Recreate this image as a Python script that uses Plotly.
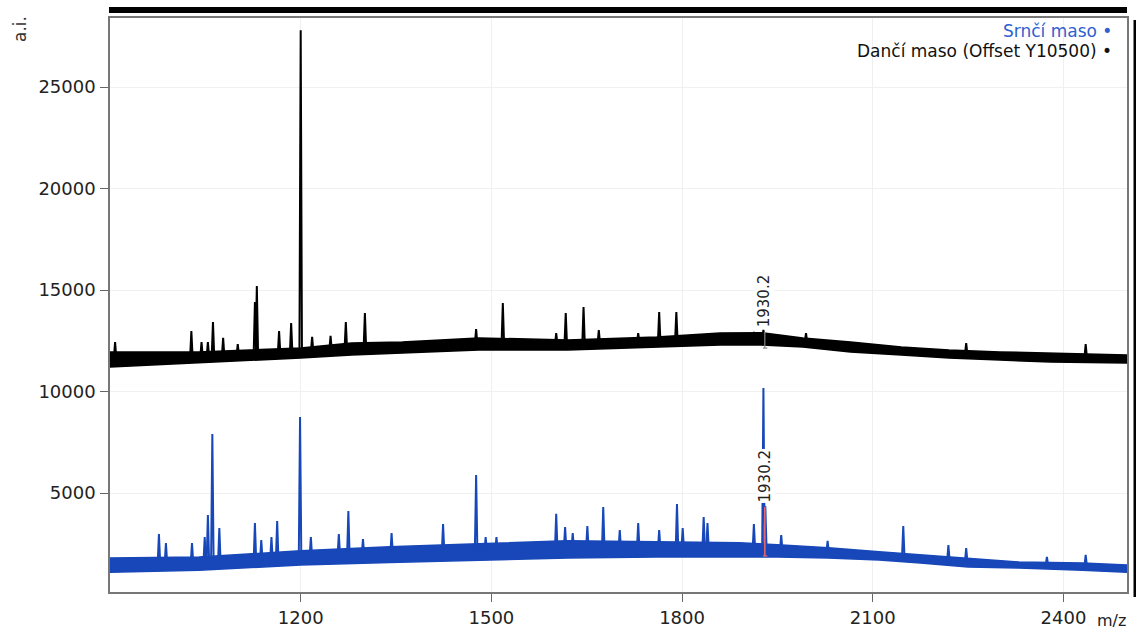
import plotly.graph_objects as go

# ---------------- data ----------------
OFFSET_DANCI = 10500

# Srnčí maso (blue) – noise band envelope
srnci_env_mz = [900, 1040, 1200, 1340, 1480, 1620, 1760, 1890, 1950, 2030, 2110, 2175, 2250, 2330, 2430, 2500]
srnci_env_hi = [1800, 1850, 2150, 2350, 2500, 2650, 2600, 2550, 2450, 2300, 2100, 1950, 1800, 1600, 1550, 1450]
srnci_env_lo = [1100, 1200, 1450, 1580, 1700, 1800, 1850, 1850, 1850, 1800, 1700, 1550, 1350, 1300, 1200, 1100]

# Srnčí maso peaks (m/z, apex, local baseline)
srnci_peak_mz = [977, 988, 1029, 1049, 1054, 1061, 1072, 1128, 1138, 1154, 1163, 1199, 1216, 1260,
                 1275, 1298, 1343, 1424, 1476, 1491, 1508, 1602, 1616, 1628, 1651, 1676, 1702, 1731,
                 1764, 1792, 1801, 1834, 1840, 1913, 1928, 1931, 1956, 2029, 2148, 2219, 2247, 2374, 2435]
srnci_peak_top = [2980, 2540, 2540, 2830, 3920, 7910, 3270, 3520, 2680, 2830, 3620, 8740, 2830, 2980,
                  4110, 2730, 3030, 3470, 5890, 2830, 2830, 3970, 3320, 3030, 3370, 4310, 3180, 3520,
                  3180, 4460, 3270, 3820, 3520, 3470, 10170, 4350, 2930, 2640, 3370, 2440, 2290, 1850, 1950]
srnci_peak_foot = [1500, 1500, 1520, 1530, 1540, 1550, 1560, 1640, 1660, 1700, 1710, 1800, 1820, 1880,
                   1900, 1930, 1970, 2050, 2100, 2110, 2120, 2200, 2220, 2220, 2220, 2220, 2220, 2220,
                   2220, 2220, 2220, 2210, 2210, 2180, 2170, 2170, 2150, 2050, 1820, 1650, 1580, 1420, 1370]

# Dančí maso (black) – intrinsic values (drawn with +10500 offset)
danci_env_mz = [900, 1040, 1200, 1280, 1360, 1480, 1620, 1760, 1860, 1925, 1990, 2065, 2145, 2220, 2300, 2380, 2500]
danci_env_hi = [1450, 1450, 1640, 1890, 1940, 2140, 2040, 2190, 2380, 2400, 2140, 1940, 1690, 1540, 1450, 1400, 1300]
danci_env_lo = [710, 900, 1150, 1300, 1400, 1540, 1540, 1690, 1790, 1790, 1690, 1450, 1300, 1150, 1050, 950, 900]

danci_peak_mz = [908, 1028, 1044, 1054, 1062, 1078, 1101, 1128, 1131, 1166, 1185, 1200, 1218, 1247, 1271,
                 1301, 1476, 1518, 1602, 1617, 1645, 1669, 1731, 1764, 1791, 1913, 1928, 1995, 2247, 2435]
danci_peak_top = [1940, 2480, 1940, 1940, 2920, 2140, 1840, 3910, 4700, 2480, 2870, 17300, 2190, 2240, 2920,
                  3360, 2580, 3860, 2380, 3360, 3660, 2530, 2380, 3410, 3410, 2430, 2530, 2380, 1890, 1840]
danci_peak_foot = [1090, 1170, 1180, 1190, 1200, 1210, 1240, 1270, 1270, 1340, 1370, 1395, 1440, 1510, 1570,
                   1610, 1830, 1830, 1800, 1790, 1810, 1840, 1900, 1940, 1980, 2090, 2090, 1900, 1310, 1150]

LABEL_MZ = 1930.2
x_ticks = [1200, 1500, 1800, 2100, 2400]
y_ticks = [5000, 10000, 15000, 20000, 25000]

BLUE = "#1747b8"
BLACK = "#000000"
FONT = "DejaVu Sans"

fig = go.Figure()


def add_series(env_mz, hi, lo, pk_mz, pk_top, pk_foot, color, offset):
    xs = list(env_mz) + list(env_mz[::-1])
    ys = [v + offset for v in hi] + [v + offset for v in lo[::-1]]
    fig.add_trace(go.Scatter(x=xs, y=ys, mode="lines", fill="toself", fillcolor=color,
                             line=dict(color=color, width=1.5), hoverinfo="skip", showlegend=False))
    sx, sy = [], []
    for m, t, f in zip(pk_mz, pk_top, pk_foot):
        sx += [m - 2.0, m, m + 2.0, None]
        sy += [f + offset, t + offset, f + offset, None]
    fig.add_trace(go.Scatter(x=sx, y=sy, mode="lines", line=dict(color=color, width=2),
                             hoverinfo="skip", showlegend=False))


add_series(danci_env_mz, danci_env_hi, danci_env_lo, danci_peak_mz, danci_peak_top, danci_peak_foot,
           BLACK, OFFSET_DANCI)
add_series(srnci_env_mz, srnci_env_hi, srnci_env_lo, srnci_peak_mz, srnci_peak_top, srnci_peak_foot,
           BLUE, 0)

# peak markers at 1930.2
shapes = [
    dict(type="line", xref="x", yref="y", x0=LABEL_MZ, x1=LABEL_MZ, y0=1900, y1=4310,
         line=dict(color="#f06a6a", width=1.5)),
    dict(type="line", xref="x", yref="y", x0=LABEL_MZ - 3, x1=LABEL_MZ + 4, y0=1900, y1=1900,
         line=dict(color="#f06a6a", width=1.2)),
    dict(type="line", xref="x", yref="y", x0=LABEL_MZ, x1=LABEL_MZ, y0=12140, y1=12930,
         line=dict(color="#888888", width=1.2)),
    dict(type="line", xref="x", yref="y", x0=LABEL_MZ - 3, x1=LABEL_MZ + 4, y0=12140, y1=12140,
         line=dict(color="#888888", width=1.2)),
    # decorative frame bars
    dict(type="rect", xref="paper", yref="paper", x0=-0.001, x1=1.0, y0=1.0087, y1=1.0192,
         fillcolor="black", line=dict(width=0)),
    dict(type="rect", xref="paper", yref="paper", x0=1.0064, x1=1.012, y0=-0.0087, y1=0.9965,
         fillcolor="black", line=dict(width=0)),
]

annotations = [
    dict(x=LABEL_MZ, y=13130, xref="x", yref="y", text="1930.2", textangle=-90, showarrow=False,
         xanchor="center", yanchor="bottom", font=dict(family=FONT, size=15, color="#222"),
         bgcolor="white", borderpad=0),
    dict(x=LABEL_MZ, y=4500, xref="x", yref="y", text="1930.2", textangle=-90, showarrow=False,
         xanchor="center", yanchor="bottom", font=dict(family=FONT, size=15, color="#222"),
         bgcolor="white", borderpad=0),
    dict(x=0.9862, y=1.0, xref="paper", yref="paper", yshift=-13, text="Srnčí maso •", showarrow=False,
         xanchor="right", yanchor="middle", borderpad=0, font=dict(family=FONT, size=17, color="#2f5fd0")),
    dict(x=0.9862, y=1.0, xref="paper", yref="paper", yshift=-33, text="Dančí maso (Offset Y10500) •",
         showarrow=False, xanchor="right", yanchor="middle", borderpad=0,
         font=dict(family=FONT, size=17, color="#111")),
    dict(x=(20 - 110) / 1017, y=(592 - 29) / 574, xref="paper", yref="paper", text="a.i.", textangle=-90,
         showarrow=False, xanchor="center", yanchor="middle", font=dict(family=FONT, size=17, color="#333")),
    dict(x=1.0, y=0, xref="paper", yref="paper", yshift=-28, text="m/z", showarrow=False,
         xanchor="right", yanchor="middle", borderpad=0, font=dict(family=FONT, size=16, color="#222")),
]

fig.update_layout(
    width=1136, height=631,
    margin=dict(l=110, r=9, t=18, b=39),
    paper_bgcolor="white", plot_bgcolor="white",
    showlegend=False,
    shapes=shapes, annotations=annotations,
    font=dict(family=FONT, size=18, color="#222"),
)
fig.update_xaxes(range=[900, 2500], tickvals=x_ticks, ticktext=[str(v) for v in x_ticks],
                 ticks="outside", ticklen=8, tickcolor="#666", tickwidth=1.2,
                 showline=True, linecolor="#777", linewidth=1.5, mirror=True,
                 showgrid=True, gridcolor="#f0f0f0", gridwidth=1.2, zeroline=False,
                 ticklabelstandoff=1, automargin=False)
fig.update_yaxes(range=[123, 28400], tickvals=y_ticks, ticktext=[str(v) for v in y_ticks],
                 ticks="outside", ticklen=8, tickcolor="#666", tickwidth=1.2,
                 showline=True, linecolor="#777", linewidth=1.5, mirror=True,
                 showgrid=True, gridcolor="#f0f0f0", gridwidth=1.2, zeroline=False,
                 ticklabelstandoff=1, automargin=False)

fig.write_html("out.html")
